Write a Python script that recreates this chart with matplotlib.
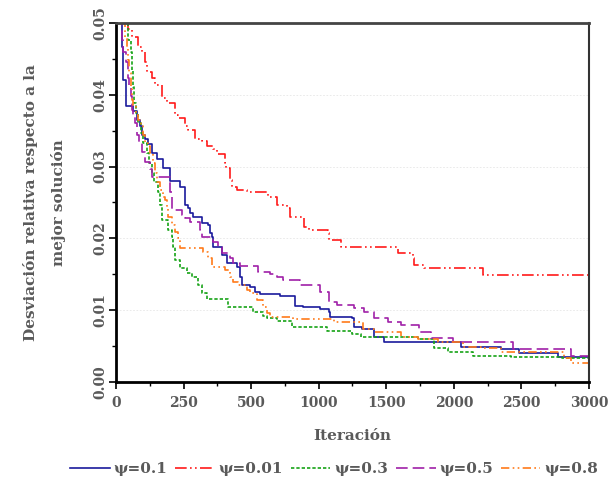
import numpy as np
import matplotlib
matplotlib.use("Agg")
import matplotlib.pyplot as plt
from matplotlib.ticker import FixedLocator

# Best-so-far relative deviation per iteration for each psi setting
it_01 = [0, 22, 26, 37, 63, 78, 89, 96, 108, 119, 134, 152, 174, 200, 237, 256, 267, 274, 286,
         319, 341, 349, 356, 360, 393, 412, 449, 460, 467, 497, 531, 568, 717, 828, 887, 1013,
         1073, 1087, 1250, 1258, 1324, 1406, 1480, 2051, 2348, 2481, 2771, 3000]
dev_01 = [0.060, 0.0466, 0.0421, 0.0384, 0.0377, 0.0365, 0.0356, 0.0344, 0.0338, 0.0331, 0.0319,
          0.0310, 0.0298, 0.0280, 0.0271, 0.0247, 0.0243, 0.0236, 0.0230, 0.0222, 0.0219, 0.0208,
          0.0202, 0.0188, 0.0177, 0.0166, 0.0160, 0.0146, 0.0135, 0.0133, 0.0126, 0.0123, 0.0120,
          0.0106, 0.0105, 0.0102, 0.0098, 0.0091, 0.0089, 0.0077, 0.0074, 0.0063, 0.0056, 0.0049,
          0.0046, 0.0040, 0.0035, 0.0033]

it_001 = [0, 26, 45, 59, 82, 96, 108, 115, 134, 145, 171, 189, 219, 230, 256, 267, 293, 319, 338,
          360, 375, 404, 408, 423, 430, 449, 486, 628, 694, 769, 791, 888, 925, 1066, 1073, 1162,
          1585, 1696, 1703, 1777, 2215, 3000]
dev_001 = [0.060, 0.0501, 0.0491, 0.0481, 0.0466, 0.0460, 0.0445, 0.0432, 0.0424, 0.0414, 0.0396,
           0.0389, 0.0372, 0.0368, 0.0356, 0.0351, 0.0338, 0.0335, 0.0328, 0.0324, 0.0317, 0.0305,
           0.0298, 0.0282, 0.0272, 0.0268, 0.0265, 0.0257, 0.0247, 0.0243, 0.0230, 0.0216, 0.0212,
           0.0208, 0.0198, 0.0188, 0.0180, 0.0173, 0.0163, 0.0159, 0.0149, 0.0149]

it_03 = [0, 33, 45, 56, 59, 63, 67, 74, 82, 93, 100, 115, 122, 134, 141, 156, 163, 171, 193, 208,
         211, 219, 237, 263, 282, 304, 319, 338, 415, 516, 590, 620, 694, 805, 1065, 1250, 1310,
         1732, 1851, 1955, 2140, 2422, 2800, 3000]
dev_03 = [0.060, 0.0501, 0.0477, 0.0459, 0.0435, 0.0411, 0.0389, 0.0375, 0.0361, 0.0347, 0.0333,
          0.0319, 0.0305, 0.0291, 0.0278, 0.0264, 0.0247, 0.0226, 0.0212, 0.0202, 0.0188, 0.0170,
          0.0159, 0.0152, 0.0146, 0.0135, 0.0124, 0.0116, 0.0105, 0.0098, 0.0092, 0.0089, 0.0085,
          0.0077, 0.0071, 0.0067, 0.0063, 0.0060, 0.0047, 0.0042, 0.0036, 0.0035, 0.0034, 0.0034]

it_05 = [0, 15, 22, 26, 37, 45, 48, 56, 59, 63, 70, 78, 85, 96, 108, 126, 134, 200, 208, 245, 256,
         274, 312, 319, 360, 378, 393, 423, 434, 460, 553, 642, 694, 738, 865, 1013, 1073, 1139,
         1258, 1332, 1406, 1510, 1607, 1740, 1829, 1992, 2438, 2868, 3000]
dev_05 = [0.060, 0.0501, 0.0477, 0.0459, 0.0445, 0.0424, 0.0414, 0.0398, 0.0379, 0.0370, 0.0361,
          0.0344, 0.0333, 0.0321, 0.0307, 0.0296, 0.0286, 0.0265, 0.0240, 0.0233, 0.0229, 0.0223,
          0.0212, 0.0202, 0.0195, 0.0188, 0.0180, 0.0173, 0.0166, 0.0162, 0.0153, 0.0151, 0.0146,
          0.0142, 0.0135, 0.0126, 0.0112, 0.0107, 0.0103, 0.0098, 0.0089, 0.0084, 0.0079, 0.0070,
          0.0061, 0.0056, 0.0046, 0.0036, 0.0036]

it_08 = [0, 26, 33, 41, 43, 48, 56, 59, 63, 74, 82, 93, 100, 108, 119, 126, 137, 145, 152, 163,
         174, 182, 189, 193, 208, 219, 230, 237, 323, 341, 356, 404, 423, 434, 452, 486, 497, 546,
         590, 620, 642, 813, 1110, 1325, 1406, 1607, 1733, 1881, 2066, 2200, 2348, 2815, 2867, 3000]
dev_08 = [0.060, 0.0501, 0.0481, 0.0467, 0.0449, 0.0431, 0.0411, 0.0393, 0.0384, 0.0372, 0.0365,
          0.0356, 0.0344, 0.0333, 0.0328, 0.0319, 0.0305, 0.0291, 0.0278, 0.0268, 0.0258, 0.0254,
          0.0244, 0.0230, 0.0219, 0.0209, 0.0201, 0.0187, 0.0181, 0.0173, 0.0160, 0.0156, 0.0146,
          0.0139, 0.0135, 0.0128, 0.0124, 0.0114, 0.0105, 0.0096, 0.0091, 0.0088, 0.0084, 0.0074,
          0.0070, 0.0063, 0.0060, 0.0056, 0.0049, 0.0047, 0.0042, 0.0033, 0.0026, 0.0026]

labels = ["ψ=0.1", "ψ=0.01", "ψ=0.3", "ψ=0.5", "ψ=0.8"]
x_ticks = [0, 250, 500, 1000, 1500, 2000, 2500, 3000]
y_ticks = [0.00, 0.01, 0.02, 0.03, 0.04, 0.05]

series = [(it_01, dev_01), (it_001, dev_001), (it_03, dev_03), (it_05, dev_05), (it_08, dev_08)]
colors = ["#1a1a9c", "#ff1a1a", "#17a317", "#a020a8", "#ff7a1a"]
styles = ["-", (0, (7, 2, 1, 2, 1, 2)), (0, (2, 1.2)), (0, (7, 3)), (0, (5, 2, 1, 2, 1, 2))]

# Iteration axis: equally spaced tick positions (piecewise-linear scale)
_break = np.array(x_ticks, dtype=float)
_pos = np.arange(len(x_ticks), dtype=float)


def _fwd(x):
    x = np.asarray(x, dtype=float)
    out = np.interp(x, _break, _pos)
    out = np.where(x < 0, x / 250.0, out)
    out = np.where(x > 3000, 7 + (x - 3000) / 500.0, out)
    return out


def _inv(u):
    u = np.asarray(u, dtype=float)
    out = np.interp(u, _pos, _break)
    out = np.where(u < 0, u * 250.0, out)
    out = np.where(u > 7, 3000 + (u - 7) * 500.0, out)
    return out


text_color = "#5a5a5a"
plt.rcParams["font.family"] = ["DejaVu Serif"]
plt.rcParams["font.weight"] = "bold"

fig = plt.figure(figsize=(6.13, 4.83), dpi=100)
ax = fig.add_axes([0.1892, 0.2091, 0.7716, 0.7433])
ax.set_xscale("function", functions=(_fwd, _inv))

for (xs, ys), c, ls, lab in zip(series, colors, styles, labels):
    ax.plot(xs, ys, drawstyle="steps-post", color=c, linestyle=ls, lw=1.2, label=lab)

ax.set_xlim(0, 3000)
ax.set_ylim(0, 0.05)
ax.xaxis.set_major_locator(FixedLocator(x_ticks))
ax.xaxis.set_minor_locator(FixedLocator([125, 375, 750, 1250, 1750, 2250, 2750]))
ax.yaxis.set_major_locator(FixedLocator(y_ticks))
ax.yaxis.set_minor_locator(FixedLocator([0.005, 0.015, 0.025, 0.035, 0.045]))
ax.set_xticklabels([str(v) for v in x_ticks])
ax.set_yticklabels([f"{v:.2f}" for v in y_ticks], rotation=90, va="center")

ax.grid(axis="y", which="major", color="#e6e6e6", lw=0.6, linestyle=(0, (2, 2)))
ax.tick_params(which="major", direction="out", length=5, width=1.2, color="black",
               labelsize=10, labelcolor=text_color)
ax.tick_params(axis="y", which="major", pad=1)
ax.tick_params(axis="x", which="major", pad=5)
ax.tick_params(which="minor", direction="out", length=3, width=1.0, color="black")

for side in ("left", "bottom"):
    ax.spines[side].set_linewidth(2)
    ax.spines[side].set_color("black")
ax.spines["top"].set_linewidth(2)
ax.spines["top"].set_color("#444444")
ax.spines["right"].set_linewidth(1.5)
ax.spines["right"].set_color("#333333")

ax.set_xlabel("Iteración", fontsize=11, color=text_color, fontweight="bold", labelpad=14)
ax.set_ylabel("Desviación relativa respecto a la\nmejor solución", fontsize=11,
              color=text_color, fontweight="bold", labelpad=20, linespacing=2.1)

leg = fig.legend(loc="lower center", bbox_to_anchor=(0.545, -0.015), ncol=5, frameon=False,
                 fontsize=11, handlelength=2.6, handletextpad=0.25, columnspacing=0.5)
for t in leg.get_texts():
    t.set_color(text_color)

fig.savefig("out.png", dpi=100)
